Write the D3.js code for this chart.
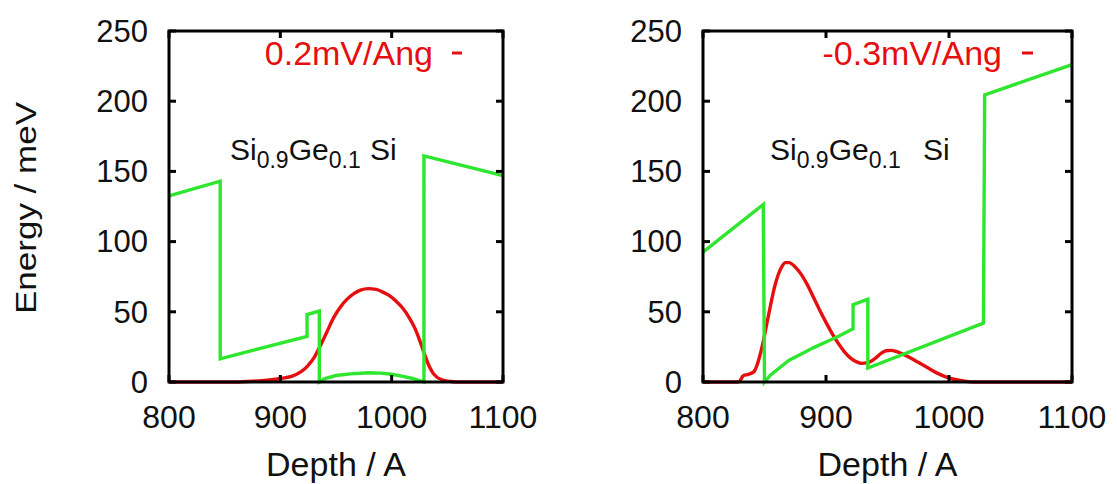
<!DOCTYPE html>
<html><head><meta charset="utf-8">
<script src="https://cdn.jsdelivr.net/npm/d3@7"></script>
<style>
html,body{margin:0;padding:0;background:#fff;}
svg{display:block;font-family:"Liberation Sans",Arial,Helvetica,sans-serif;}
</style></head>
<body>
<svg id="c" width="1117" height="484"></svg>
<script>
// ---- data ----
const xTicks = [800, 900, 1000, 1100];
const yTicks = [0, 50, 100, 150, 200, 250];
const xDomain = [800, 1100];
const yDomain = [0, 250];

const leftLegend = "0.2mV/Ang";
const rightLegend = "-0.3mV/Ang";

// left panel: band profile (green) and probability density (red)
const leftBand = [[800,132.5],[846,143],[846,16.5],[924,32.5],[924,48],[935,50.5],[935,0],[940,2.5],[950,4.6],[963,5.8],[979,6.6],[990,6.3],[1000,5.5],[1010,4],[1019,2.5],[1029,0],[1029,161],[1100,147]];
const leftDensity = [[800,0],[860,0],[875,0.5],[890,1.5],[900,2.5],[910,4],[918,7],[924,11],[930,17],[936,26],[942,36],[948,46],[954,53.5],[960,59],[966,63],[972,65.5],[979,66.5],[986,66],[992,64],[998,61.5],[1004,57.5],[1010,52.5],[1016,45.5],[1021,38],[1025,30],[1029,21],[1033,12.5],[1037,6.5],[1041,3.2],[1046,1.4],[1053,0.4],[1062,0],[1100,0]];

// right panel
const rightBand = [[800,92.5],[849,126.5],[850,0],[855,5],[862,10],[870,15.5],[880,20],[890,24.5],[900,28.5],[911,33],[922,38],[922,55],[934,59],[934,10],[1028,42],[1029,204.5],[1100,226]];
const rightDensity = [[800,0],[829,0],[830.5,1.5],[832.5,4.3],[836,5.3],[841,7],[843.5,11],[846,18],[849,29],[852,42],[855,55],[858,67],[861,76],[864,82],[867,85],[870,85],[873,83.5],[876,81],[880,76.5],[885,69],[890,60],[895,51],[900,42.5],[905,34.5],[910,27.5],[915,21.5],[920,17],[925,14.3],[929,13.3],[933,13.6],[937,15],[941,17.5],[945,20.5],[949,22.3],[953,22.5],[957,21.8],[962,20],[968,17.5],[975,14],[982,10.5],[990,6.5],[998,3.5],[1005,1.8],[1012,0.7],[1020,0],[1100,0]];

// ---- drawing ----
const RED = "#e60f0f", GREEN = "#2ee62e";
const svg = d3.select("#c");
svg.append("rect").attr("width",1117).attr("height",484).attr("fill","#fff");

const yTop = 31, yBottom = 382;
const panels = [
  {x0:169, x1:503, band:leftBand, dens:leftDensity, legend:leftLegend, legEnd:433, dash:[452,462], ylabel:true, lastSi:370, annX:230},
  {x0:703, x1:1072, band:rightBand, dens:rightDensity, legend:rightLegend, legEnd:1002, dash:[1022,1033], ylabel:false, lastSi:923, annX:770}
];

panels.forEach(p => {
  const x = d3.scaleLinear().domain(xDomain).range([p.x0, p.x1]);
  const y = d3.scaleLinear().domain(yDomain).range([yBottom, yTop]);
  const g = svg.append("g");

  const lineLin = d3.line().x(d=>x(d[0])).y(d=>y(d[1]));
  const lineSm = d3.line().x(d=>x(d[0])).y(d=>y(d[1])).curve(d3.curveMonotoneX);
  g.append("path").attr("d", lineSm(p.dens)).attr("fill","none").attr("stroke",RED).attr("stroke-width",3.4).attr("stroke-linejoin","round");
  g.append("path").attr("d", lineLin(p.band)).attr("fill","none").attr("stroke",GREEN).attr("stroke-width",3.4).attr("stroke-linejoin","miter");

  g.append("rect").attr("x",p.x0).attr("y",yTop).attr("width",p.x1-p.x0).attr("height",yBottom-yTop)
    .attr("fill","none").attr("stroke","#000").attr("stroke-width",3);
  const tl = 7;
  yTicks.forEach(t => {
    g.append("line").attr("x1",p.x0).attr("x2",p.x0+tl).attr("y1",y(t)).attr("y2",y(t)).attr("stroke","#000").attr("stroke-width",3);
    g.append("line").attr("x1",p.x1).attr("x2",p.x1-tl).attr("y1",y(t)).attr("y2",y(t)).attr("stroke","#000").attr("stroke-width",3);
    g.append("text").attr("x",p.x0-21).attr("y",y(t)).attr("dy","0.35em").attr("text-anchor","end")
      .attr("font-size",31).attr("fill","#111").text(t);
  });
  xTicks.forEach(t => {
    g.append("line").attr("x1",x(t)).attr("x2",x(t)).attr("y1",yBottom).attr("y2",yBottom-tl).attr("stroke","#000").attr("stroke-width",3);
    g.append("line").attr("x1",x(t)).attr("x2",x(t)).attr("y1",yTop).attr("y2",yTop+tl).attr("stroke","#000").attr("stroke-width",3);
    g.append("text").attr("x",x(t)).attr("y",428).attr("text-anchor","middle")
      .attr("font-size",32).attr("fill","#111").text(t);
  });

  g.append("text").attr("x",(p.x0+p.x1)/2).attr("y",476).attr("text-anchor","middle")
    .attr("font-size",34).attr("fill","#111").text("Depth / A");
  if (p.ylabel) {
    g.append("text").attr("transform","translate(36,208) rotate(-90) scale(1,0.82)").attr("text-anchor","middle")
      .attr("font-size",35).attr("fill","#111").text("Energy / meV");
  }

  g.append("text").attr("x",p.legEnd).attr("y",65).attr("text-anchor","end")
    .attr("font-size",34).attr("fill",RED).text(p.legend);
  g.append("line").attr("x1",p.dash[0]).attr("x2",p.dash[1]).attr("y1",53).attr("y2",53)
    .attr("stroke",RED).attr("stroke-width",3);

  const a = g.append("text").attr("x",p.annX).attr("y",160).attr("font-size",30).attr("fill","#111");
  a.append("tspan").text("Si");
  a.append("tspan").attr("font-size",23).attr("dy",8).text("0.9");
  a.append("tspan").attr("dy",-8).text("Ge");
  a.append("tspan").attr("font-size",23).attr("dy",8).text("0.1");
  a.append("tspan").attr("dy",-8).attr("x",p.lastSi).text("Si");
});
</script>
</body></html>
